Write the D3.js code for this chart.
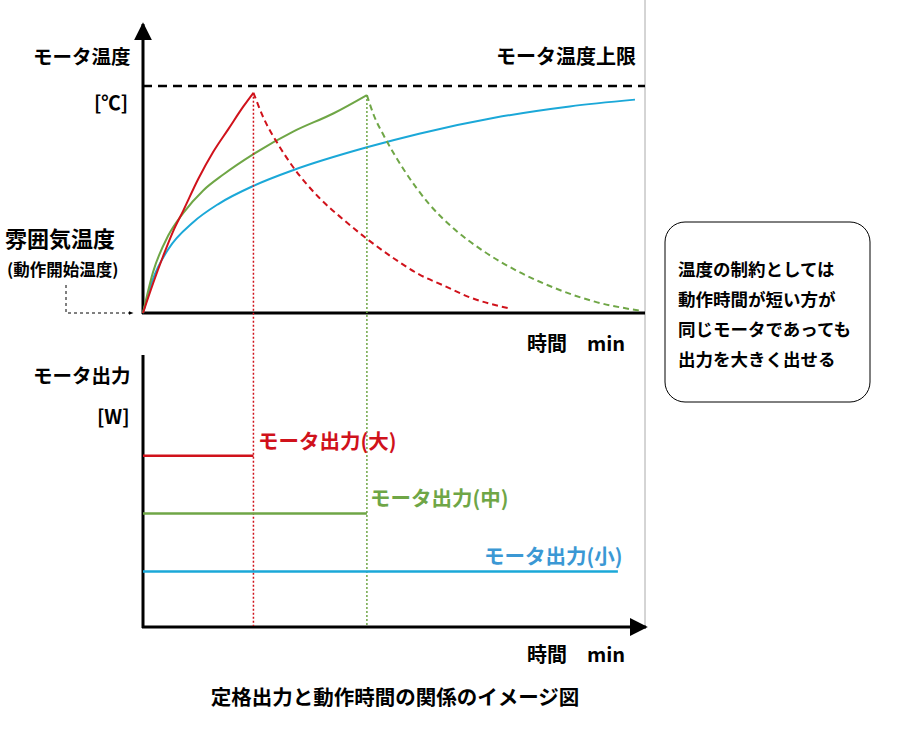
<!DOCTYPE html><html><head><meta charset="utf-8">
<script src="https://cdn.jsdelivr.net/npm/d3@7"></script>
<style>body{margin:0;background:#fff}text{font-family:"Noto Sans CJK JP","Noto Sans",sans-serif;font-weight:bold}</style>
</head><body><svg id="c" width="900" height="739"></svg><script>
const redRiseT=[0,2,4,6,8,11,14,17,20,22], redRiseV=[0,13,25,36,45,59,71,81,91,97];
const redFallT=[22,24,27,30,35,40,45,50,55,60,65,73], redFallV=[97,86,74,64,51,41,32,24,17,12,7,2];
const greenRiseT=[0,2,5,8,12,16,22,30,38,44.6], greenRiseV=[0,18,34,44,54,61,70,80,88,96];
const greenFallT=[44.6,46,48,52,57,62,68,75,82,90,99], greenFallV=[96,87,78,63,48,37,27,18,11,5,1];
const blueT=[0,2,5,10,15,22,30,44.6,55,70,85,98], blueV=[0,15,28,40,48,56,63,73,79,86,91,94];
const powerLevels=[68,45,22], powerEnds=[22,44.6,94.6];
const powerLabels=["モータ出力(大)","モータ出力(中)","モータ出力(小)"];
const colors=["#d0121b","#6fa646","#1ba8d8"], labelColors=["#d0121b","#6fa646","#3b98d4"];
const limit=100;
const boxLines=["温度の制約としては","動作時間が短い方が","同じモータであっても","出力を大きく出せる"];

const svg=d3.select("#c");
const x=d3.scaleLinear().domain([0,100]).range([143,645]);
const yT=d3.scaleLinear().domain([0,100]).range([313,86]);
const yP=d3.scaleLinear().domain([0,100]).range([627,375]);
const defs=svg.append("defs");
defs.append("marker").attr("id","ah").attr("viewBox","0 0 10 10").attr("refX",9).attr("refY",5).attr("markerWidth",6).attr("markerHeight",6).attr("orient","auto").append("path").attr("d","M0,0L10,5L0,10z").attr("fill","#000");
defs.append("marker").attr("id","as").attr("viewBox","0 0 10 10").attr("refX",9).attr("refY",5).attr("markerWidth",5).attr("markerHeight",5).attr("orient","auto").append("path").attr("d","M0,1L10,5L0,9z").attr("fill","#000");
svg.append("line").attr("x1",645).attr("x2",645).attr("y1",0).attr("y2",625).attr("stroke","#aaa").attr("stroke-width",1);
svg.append("line").attr("x1",143).attr("x2",143).attr("y1",314).attr("y2",24).attr("stroke","#000").attr("stroke-width",3).attr("marker-end","url(#ah)");
svg.append("line").attr("x1",142).attr("x2",645).attr("y1",313).attr("y2",313).attr("stroke","#000").attr("stroke-width",3);
svg.append("line").attr("x1",143).attr("x2",143).attr("y1",355).attr("y2",628).attr("stroke","#000").attr("stroke-width",3);
svg.append("line").attr("x1",142).attr("x2",646).attr("y1",627).attr("y2",627).attr("stroke","#000").attr("stroke-width",3).attr("marker-end","url(#ah)");
svg.append("line").attr("x1",x(0)).attr("x2",x(100)).attr("y1",yT(limit)).attr("y2",yT(limit)).attr("stroke","#000").attr("stroke-width",2.5).attr("stroke-dasharray","9,6");
const line=d3.line().x(d=>x(d[0])).y(d=>yT(d[1])).curve(d3.curveMonotoneX);
const z=(a,b)=>a.map((t,i)=>[t,b[i]]);
function path(d,c,dash){svg.append("path").attr("d",line(d)).attr("fill","none").attr("stroke",c).attr("stroke-width",2).attr("stroke-dasharray",dash||null);}
path(z(blueT,blueV),colors[2]);
path(z(greenRiseT,greenRiseV),colors[1]);
path(z(greenFallT,greenFallV),colors[1],"6,4");
path(z(redRiseT,redRiseV),colors[0]);
path(z(redFallT,redFallV),colors[0],"6,4");
[[22,97,0],[44.6,96,1]].forEach(([t,v,i])=>svg.append("line").attr("x1",x(t)).attr("x2",x(t)).attr("y1",yT(v)).attr("y2",626).attr("stroke",colors[i]).attr("stroke-width",1.5).attr("stroke-dasharray","2,2"));
powerLevels.forEach((p,i)=>{
 svg.append("line").attr("x1",x(0)).attr("x2",x(powerEnds[i])).attr("y1",yP(p)).attr("y2",yP(p)).attr("stroke",colors[i]).attr("stroke-width",2.5);
});
const lp=[[258,449],[370,506],[484,564]];
powerLabels.forEach((s,i)=>svg.append("text").attr("x",lp[i][0]).attr("y",lp[i][1]).attr("fill",labelColors[i]).attr("font-size",20.5).text(s));
function t(s,xx,yy,fs,anchor){svg.append("text").attr("x",xx).attr("y",yy).attr("font-size",fs).attr("text-anchor",anchor||"start").text(s);}
t("モータ温度",33,64,19.5);t("[℃]",94,110,19.5);t("モータ温度上限",636,64,20,"end");
t("雰囲気温度",5,247,22);t("(動作開始温度)",7,276,16.5);
t("時間　min",527,351,20);t("モータ出力",33,383,19.5);t("[W]",97,424,19.5);t("時間　min",527,662,20);
t("定格出力と動作時間の関係のイメージ図",395,705,20.5,"middle");
svg.append("path").attr("d","M66,285V313H133").attr("fill","none").attr("stroke","#000").attr("stroke-width",1).attr("stroke-dasharray","3,3").attr("marker-end","url(#as)");
svg.append("rect").attr("x",665).attr("y",222).attr("width",205).attr("height",180).attr("rx",20).attr("fill","#fff").attr("stroke","#000").attr("stroke-width",1);
boxLines.forEach((s,i)=>t(s,678,276+i*30,17.5));
</script></body></html>
